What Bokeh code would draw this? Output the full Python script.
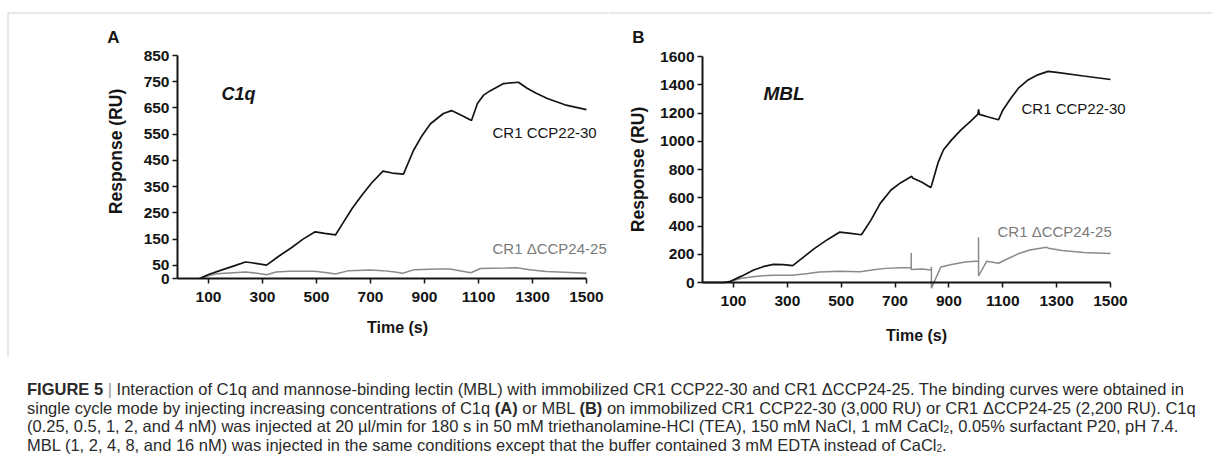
import math
from bokeh.plotting import figure
from bokeh.models import Range1d, FixedTicker, Label, Div
from bokeh.layouts import row, column
from bokeh.embed import file_html
from bokeh.resources import INLINE

# ---------------- data ----------------
# Panel A: C1q
a_ccp2230_t = [67, 100, 150, 200, 237, 260, 315, 360, 407, 450, 495, 530, 570, 600, 633, 670, 704, 746, 780,
               822, 859, 888, 922, 970, 1000, 1040, 1074, 1096, 1120, 1144, 1193, 1248, 1280, 1312, 1355, 1420, 1500]
a_ccp2230_v = [0, 15, 33, 50, 63, 60, 51, 85, 117, 150, 178, 172, 166, 215, 269, 320, 364, 409, 402,
               398, 488, 540, 590, 629, 640, 620, 602, 667, 700, 716, 743, 748, 725, 707, 686, 662, 644]
a_d2425_t = [67, 100, 130, 237, 280, 315, 350, 400, 492, 540, 570, 619, 700, 746, 790, 820, 859, 950, 994,
             1040, 1072, 1107, 1200, 1241, 1290, 1350, 1420, 1500]
a_d2425_v = [0, 10, 18, 25, 20, 14, 25, 28, 28, 22, 17, 30, 32, 30, 25, 20, 33, 36, 36,
             28, 22, 38, 40, 41, 33, 27, 24, 20]

# Panel B: MBL
b_ccp2230_t = [-15, 65, 85, 130, 175, 210, 248, 285, 320, 360, 400, 450, 495, 535, 575, 610, 645, 685, 720,
               762, 765, 800, 832, 836, 860, 880, 910, 945, 980, 1008, 1010, 1013, 1050, 1084, 1100, 1130,
               1160, 1192, 1230, 1268, 1300, 1400, 1500]
b_ccp2230_v = [0, 0, 6, 45, 88, 112, 128, 126, 120, 180, 240, 305, 357, 348, 338, 440, 560, 655, 705,
               752, 740, 710, 672, 690, 850, 940, 1010, 1080, 1140, 1192, 1225, 1190, 1170, 1152, 1220, 1305,
               1380, 1431, 1470, 1495, 1488, 1462, 1437]
b_d2425_t = [-15, 65, 86, 130, 187, 250, 318, 370, 419, 492, 571, 620, 666, 720, 760, 760, 760, 800, 835,
             835, 835, 870, 910, 960, 1010, 1010, 1010, 1040, 1084, 1120, 1160, 1200, 1262, 1270, 1320,
             1400, 1500]
b_d2425_v = [0, 0, 7, 30, 45, 52, 52, 62, 75, 80, 76, 90, 100, 105, 105, 208, 92, 95, 88,
             112, -40, 110, 128, 145, 152, 320, 46, 150, 136, 170, 205, 230, 250, 242, 226,
             212, 205]

x_ticks = [100, 300, 500, 700, 900, 1100, 1300, 1500]
a_y_ticks = [0, 50, 150, 250, 350, 450, 550, 650, 750, 850]
b_y_ticks = [0, 200, 400, 600, 800, 1000, 1200, 1400, 1600]

FONT = "Liberation Sans"
BLACK = "#141414"
GREY = "#8a8a8a"
FRAME_GREY = "#d2d2d2"


def panel(fig_box, frame_box, xr, yr, yticks):
    """fig_box = (x, y, w, h) of the figure on the page; frame_box = (left, right, top, bottom)
    page pixels where the axes' data ranges xr / yr are drawn."""
    fx, fy, fw, fh = fig_box
    l, r, t, b = frame_box
    kx = (xr[1] - xr[0]) / (r - l)
    ky = (yr[1] - yr[0]) / (b - t)
    x_range = Range1d(xr[0] - (l - fx) * kx, xr[0] + (fx + fw - l) * kx)
    y_range = Range1d(yr[0] - (fy + fh - b) * ky, yr[1] + (t - fy) * ky)
    p = figure(width=fw, height=fh, output_backend="svg", toolbar_location=None,
               x_range=x_range, y_range=y_range,
               min_border=0, min_border_left=0, min_border_right=0,
               min_border_top=0, min_border_bottom=0)
    p.grid.visible = False
    p.outline_line_color = None
    for ax in (p.xaxis[0], p.yaxis[0]):
        ax.axis_line_width = 2
        ax.axis_line_color = BLACK
        ax.major_tick_line_width = 1.5
        ax.major_tick_line_color = BLACK
        ax.major_tick_out = 5
        ax.major_tick_in = 0
        ax.minor_tick_line_color = None
        ax.major_label_text_font = FONT
        ax.major_label_text_font_style = "bold"
        ax.major_label_text_font_size = "15.5px"
        ax.major_label_text_color = BLACK
    xa, ya = p.xaxis[0], p.yaxis[0]
    xa.ticker = FixedTicker(ticks=x_ticks)
    ya.ticker = FixedTicker(ticks=yticks)
    xa.fixed_location = yr[0]
    ya.fixed_location = xr[0]
    xa.bounds = xr
    ya.bounds = yr
    xa.major_label_standoff = 8
    ya.major_label_standoff = 3

    def to_data(px, py):
        return xr[0] + (px - l) * kx, yr[0] + (b - py) * ky

    return p, to_data


def add_text(p, to_data, px, py, text, size, style="normal", color=BLACK, align="left", angle=0.0):
    x, y = to_data(px, py)
    p.add_layout(Label(x=x, y=y, text=text, text_font=FONT, text_font_size=size,
                       text_font_style=style, text_color=color, text_align=align,
                       text_baseline="middle", angle=angle))


def frame_lines(p, to_data, x0, x1, y_top, y_bottom, left=False):
    xa, ya = to_data(x0, y_top)
    xb, _ = to_data(x1, y_top)
    p.segment(x0=[xa], y0=[ya], x1=[xb], y1=[ya], line_color=FRAME_GREY, line_width=1)
    if left:
        _, yb = to_data(x0, y_bottom)
        p.segment(x0=[xa], y0=[ya], x1=[xa], y1=[yb], line_color=FRAME_GREY, line_width=1)


FIG_H = 357

# ---------------- panel A ----------------
pa, da = panel((0, 0, 608, FIG_H), (177, 586, 55, 278), (-15, 1500), (0, 850), a_y_ticks)
frame_lines(pa, da, 7.5, 608, 12.5, 357, left=True)
pa.line(a_d2425_t, a_d2425_v, line_color=GREY, line_width=1.5)
pa.line(a_ccp2230_t, a_ccp2230_v, line_color=BLACK, line_width=1.7)
add_text(pa, da, 113, 37, "A", "17px", "bold", align="center")
add_text(pa, da, 115, 151, "Response (RU)", "17.5px", "bold", align="center", angle=math.pi / 2)
add_text(pa, da, 397, 327, "Time (s)", "16px", "bold", align="center")
add_text(pa, da, 221, 93, "C1q", "18px", "bold italic")
add_text(pa, da, 492, 132, "CR1 CCP22-30", "15px")
add_text(pa, da, 492, 248, "CR1 \u0394CCP24-25", "15px", color="#7a7a7a")

# ---------------- panel B ----------------
pb, db = panel((608, 0, 604, FIG_H), (702, 1110, 56, 282), (-15, 1500), (0, 1600), b_y_ticks)
frame_lines(pb, db, 608, 1212, 12.5, 357)
pb.line(b_d2425_t, b_d2425_v, line_color=GREY, line_width=1.5)
pb.line(b_ccp2230_t, b_ccp2230_v, line_color=BLACK, line_width=1.7)
add_text(pb, db, 638, 37, "B", "17px", "bold", align="center")
add_text(pb, db, 637, 169, "Response (RU)", "17.5px", "bold", align="center", angle=math.pi / 2)
add_text(pb, db, 916, 335, "Time (s)", "16px", "bold", align="center")
add_text(pb, db, 763, 93, "MBL", "19px", "bold italic")
add_text(pb, db, 1021, 108, "CR1 CCP22-30", "15px")
add_text(pb, db, 997, 231, "CR1 \u0394CCP24-25", "15px", color="#7a7a7a")

# ---------------- caption ----------------
SUB = "<span style='font-size:10px;line-height:0;position:relative;top:1px'>2</span>"
caption_lines = [
    "<b>FIGURE 5</b> <span style='color:#999'>|</span> Interaction of C1q and mannose-binding lectin (MBL) with immobilized CR1 CCP22-30 and CR1 \u0394CCP24-25. The binding curves were obtained in",
    "single cycle mode by injecting increasing concentrations of C1q <b>(A)</b> or MBL <b>(B)</b> on immobilized CR1 CCP22-30 (3,000 RU) or CR1 \u0394CCP24-25 (2,200 RU). C1q",
    "(0.25, 0.5, 1, 2, and 4 nM) was injected at 20 \u00b5l/min for 180 s in 50 mM triethanolamine-HCl (TEA), 150 mM NaCl, 1 mM CaCl" + SUB + ", 0.05% surfactant P20, pH 7.4.",
    "MBL (1, 2, 4, 8, and 16 nM) was injected in the same conditions except that the buffer contained 3 mM EDTA instead of CaCl" + SUB + ".",
]
caption = Div(text="<br>".join(caption_lines), width=1212, height=108,
              styles={"font-family": "'Liberation Sans', Arial, sans-serif", "font-size": "16.5px",
                      "line-height": "18.7px", "color": "#2a2a2a", "white-space": "nowrap",
                      "padding-top": "18px", "padding-left": "22px", "box-sizing": "border-box"})

layout = column(row(pa, pb, spacing=0), caption, spacing=0)

open("out.html", "w").write(file_html(layout, INLINE))
